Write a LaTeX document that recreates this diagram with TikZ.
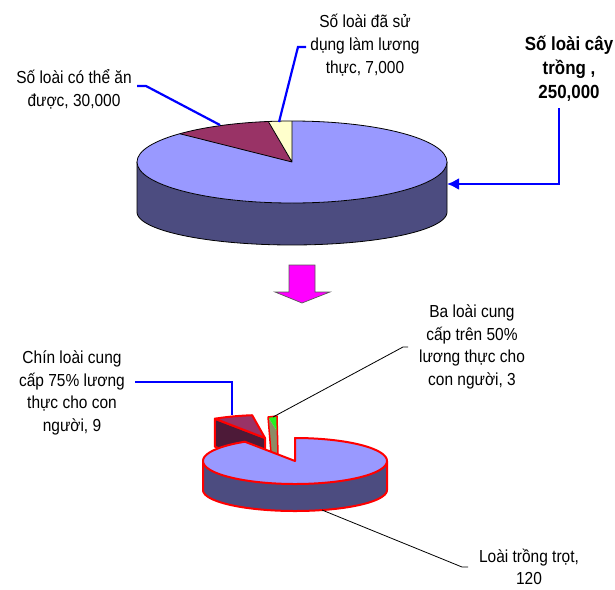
\documentclass[tikz,border=0pt]{standalone}
\usepackage{fontspec}
\setmainfont[FakeStretch=0.89]{Liberation Sans}
\usetikzlibrary{arrows.meta}
\definecolor{pietop}{HTML}{9999FF}
\definecolor{pieside}{HTML}{4C4C80}
\definecolor{maroon}{HTML}{993366}
\definecolor{paleyel}{HTML}{FFFFCC}
\definecolor{darkmaroon}{HTML}{4D1A38}
\definecolor{lime}{HTML}{22F022}
\definecolor{khaki}{HTML}{8C8C66}
\definecolor{magent}{HTML}{FF00FF}
\tikzset{
  lbl/.style={inner sep=0pt, align=center, text=black, font=\fontsize{17.4}{22.7}\selectfont},
  lblbold/.style={inner sep=0pt, align=center, text=black, font=\fontsize{19}{24}\selectfont\bfseries},
  blueline/.style={draw=blue, line width=2.2pt, line join=miter},
  blackline/.style={draw=black, line width=0.8pt},
  topedge/.style={draw=black, line width=0.8pt, line join=round},
  rededge/.style={draw=red, line width=2pt, line join=round},
}
\begin{document}
\begin{tikzpicture}[x=1pt,y=-1pt]
\useasboundingbox (0,0) rectangle (615,589);

% ---------- top pie ----------
\fill[pieside] (137,162) -- plot[domain=180:360,samples=80] ({292+155*cos(\x)},{212-33*sin(\x)}) -- (447,162)
   -- plot[domain=360:180,samples=80] ({292+155*cos(\x)},{162-41*sin(\x)}) -- cycle;
\draw[topedge] (137,162) -- plot[domain=180:360,samples=80] ({292+155*cos(\x)},{212-33*sin(\x)}) -- (447,162);
\fill[pietop] (292,162) ellipse [x radius=155, y radius=41];
\fill[maroon] (292,162) -- plot[domain=98.8:136.4,samples=30] ({292+155*cos(\x)},{162-41*sin(\x)}) -- cycle;
\fill[paleyel] (292,162) -- plot[domain=90:98.8,samples=10] ({292+155*cos(\x)},{162-41*sin(\x)}) -- cycle;
\draw[topedge] (292,162) ellipse [x radius=155, y radius=41];
\coordinate (tc) at (292,162);
\coordinate (r90) at (292,121);
\coordinate (r99) at ({292+155*cos(98.8)},{162-41*sin(98.8)});
\coordinate (r136) at ({292+155*cos(136.4)},{162-41*sin(136.4)});
\draw[topedge] (r90) -- (tc) -- (r99) (tc) -- (r136);

% ---------- down arrow ----------
\filldraw[fill=magent, draw=black!65, line width=0.7pt]
  (289,265) -- (315,265) -- (315,292) -- (330,292) -- (302,303) -- (275,292) -- (289,292) -- cycle;

% ---------- lower pie: exploded slices ----------
% nine-species slice
\fill[darkmaroon] (265,438) -- ({265+92*cos(123)},{438-23*sin(123)}) -- ({265+92*cos(123)},{466-23*sin(123)}) -- (265,466) -- cycle;
\draw[rededge] (265,438) -- ({265+92*cos(123)},{438-23*sin(123)}) -- ({265+92*cos(123)},{466-23*sin(123)}) -- (265,466) -- cycle;
\fill[maroon] (265,438) -- plot[domain=98:123,samples=20] ({265+92*cos(\x)},{438-23*sin(\x)}) -- cycle;
\draw[rededge] (265,438) -- plot[domain=98:123,samples=20] ({265+92*cos(\x)},{438-23*sin(\x)}) -- cycle;
% three-species slice
\fill[khaki] (268,417) -- (277,431) -- (278,455) -- (271,453) -- cycle;
\fill[lime] (268,417) -- (277,416) -- (277,431) -- cycle;
\draw[red, line width=1.5pt, line join=round] (268,417) -- (277,416) -- (278,455) -- (271,453) -- cycle;

% ---------- lower pie: main slice ----------
\fill[pieside] (203,461) -- plot[domain=180:360,samples=80] ({295+92*cos(\x)},{490-21*sin(\x)}) -- (387,461)
   -- plot[domain=360:180,samples=80] ({295+92*cos(\x)},{461-23*sin(\x)}) -- cycle;
\draw[rededge] (203,461) -- plot[domain=180:360,samples=80] ({295+92*cos(\x)},{490-21*sin(\x)}) -- (387,461);
\fill[pietop] (295,461) -- plot[domain=123:450,samples=120] ({295+92*cos(\x)},{461-23*sin(\x)}) -- cycle;
\draw[rededge] (295,461) -- plot[domain=123:450,samples=120] ({295+92*cos(\x)},{461-23*sin(\x)}) -- cycle;

% ---------- labels ----------
\node[lbl] (A) at (74,89) {Số loài có thể ăn\\được, 30,000};
\node[lbl] (B) at (365,45) {Số loài đã sử\\dụng làm lương\\thực, 7,000};
\node[lblbold] (C) at (569,69) {Số loài cây\\trồng ,\\250,000};
\node[lbl] (D) at (72,393) {Chín loài cung\\cấp 75\% lương\\thực cho con\\người, 9};
\node[lbl] (E) at (472,347) {Ba loài cung\\cấp trên 50\%\\lương thực cho\\con người, 3};
\node[lbl] (F) at (529,567) {Loài trồng trọt,\\120};

% ---------- connectors ----------
\coordinate (a0) at (137,86);   \coordinate (a1) at (146,86);  \coordinate (a2) at (220,125);
\coordinate (b0) at (306,47);   \coordinate (b1) at (298,47);  \coordinate (b2) at (279,122);
\coordinate (c0) at (559,108);  \coordinate (c1) at (559,184); \coordinate (c2) at (447,184);
\coordinate (d0) at (135,382);  \coordinate (d1) at (232,382); \coordinate (d2) at (232,415);
\coordinate (e0) at (408,347);  \coordinate (e1) at (403,347); \coordinate (e2) at (273,417);
\coordinate (f0) at (468,567);  \coordinate (f1) at (462,567); \coordinate (f2) at (322,510);

\draw[blueline] (a0) -- (a1) -- (a2);
\draw[blueline] (b0) -- (b1) -- (b2);
\draw[blueline, -{Latex[length=12pt,width=12pt]}] (c0) -- (c1) -- (c2);
\draw[blueline] (d0) -- (d1) -- (d2);
\draw[blackline] (e0) -- (e1) -- (e2);
\draw[blackline] (f0) -- (f1) -- (f2);
\end{tikzpicture}
\end{document}
